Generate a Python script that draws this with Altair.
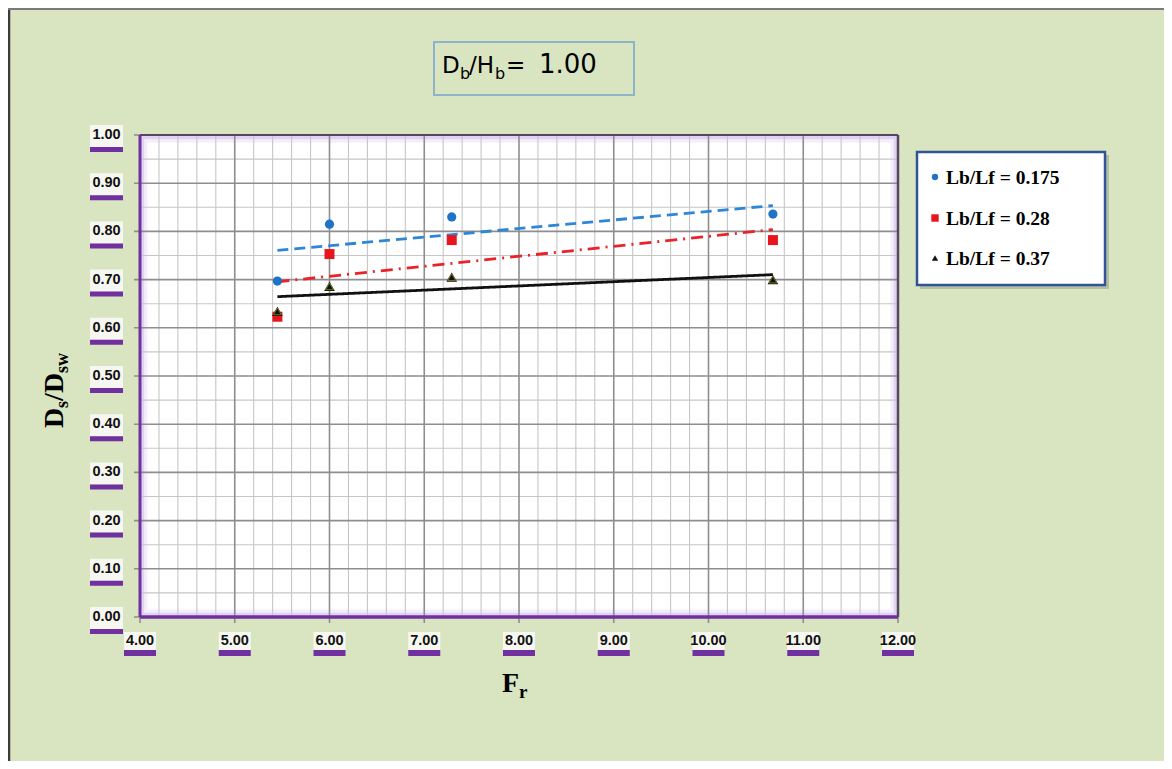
import altair as alt
import pandas as pd

# ---------------- data ----------------
fr = [5.45, 6.00, 7.29, 10.68]
ds_0175 = [0.697, 0.815, 0.830, 0.836]
ds_028 = [0.623, 0.753, 0.782, 0.782]
ds_037 = [0.634, 0.686, 0.705, 0.700]
series_names = ["Lb/Lf = 0.175", "Lb/Lf = 0.28", "Lb/Lf = 0.37"]
x_ticks = [4.0, 5.0, 6.0, 7.0, 8.0, 9.0, 10.0, 11.0, 12.0]
y_ticks = [0.0, 0.1, 0.2, 0.3, 0.4, 0.5, 0.6, 0.7, 0.8, 0.9, 1.0]
x_minor = [round(4 + 0.2 * i, 2) for i in range(41) if i % 5 != 0]
y_minor = [round(0.05 + 0.1 * i, 2) for i in range(10)]

rows = []
for name, vals in zip(series_names, [ds_0175, ds_028, ds_037]):
    for xv, yv in zip(fr, vals):
        rows.append({"Fr": xv, "ratio": yv, "series": name})
df = pd.DataFrame(rows)
xt = pd.DataFrame({"v": x_ticks})
yt = pd.DataFrame({"v": y_ticks})
xm = pd.DataFrame({"v": x_minor})
ym = pd.DataFrame({"v": y_minor})
one = pd.DataFrame({"k": [0]})

# ---------------- layout ----------------
W, H = 758, 482
OX, OY = 140, 135  # page position of plot origin
BG = "#d9e4c1"
PURPLE = "#7030a0"
MAJOR_C = "#8e8e8e"
MINOR_C = "#c6c6c6"

xs = alt.Scale(domain=[4, 12], nice=False, zero=False)
ys = alt.Scale(domain=[0, 1], nice=False, zero=False)


def px(x):
    return x - OX


def py(y):
    return y - OY


def X(field="v"):
    return alt.X(f"{field}:Q", scale=xs, axis=None)


def Y(field="v"):
    return alt.Y(f"{field}:Q", scale=ys, axis=None)


def txt(s, x, y, size, font, weight="normal", angle=0, align="left", baseline="alphabetic", color="black"):
    return alt.Chart(one).mark_text(
        text=s, fontSize=size, font=font, fontWeight=weight, angle=angle,
        align=align, baseline=baseline, color=color
    ).encode(x=alt.value(x), y=alt.value(y))


def box(x1, x2, y1, y2, **kw):
    return alt.Chart(one).mark_rect(**kw).encode(
        x=alt.value(x1), x2=alt.value(x2), y=alt.value(y1), y2=alt.value(y2))


# inner lavender glow of the plot area (under the grid)
glow1 = box(2.5, W - 2.5, 2.5, H - 2.5, filled=False, stroke="#d9c7f1", strokeWidth=4, strokeOpacity=0.8)
glow2 = box(6, W - 6, 6, H - 6, filled=False, stroke="#efe7f9", strokeWidth=3, strokeOpacity=0.7)

# grid lines
gx_minor = alt.Chart(xm).mark_rule(color=MINOR_C, strokeWidth=1.1).encode(
    x=X(), y=alt.value(0), y2=alt.value(H))
gy_minor = alt.Chart(ym).mark_rule(color=MINOR_C, strokeWidth=1.1).encode(
    y=Y(), x=alt.value(0), x2=alt.value(W))
gx_major = alt.Chart(xt).mark_rule(color=MAJOR_C, strokeWidth=1.6).encode(
    x=X(), y=alt.value(0), y2=alt.value(H + 6))
gy_major = alt.Chart(yt).mark_rule(color=MAJOR_C, strokeWidth=1.6).encode(
    y=Y(), x=alt.value(-6), x2=alt.value(W))

# borders
top_b = alt.Chart(one).mark_rule(color="#54485f", strokeWidth=2).encode(
    x=alt.value(0), x2=alt.value(W), y=alt.value(0))
right_b = alt.Chart(one).mark_rule(color="#54485f", strokeWidth=2.5).encode(
    x=alt.value(W), y=alt.value(0), y2=alt.value(H))
left_border = alt.Chart(one).mark_rule(color=PURPLE, strokeWidth=3).encode(
    x=alt.value(0), y=alt.value(0), y2=alt.value(H))
bottom_border = alt.Chart(one).mark_rule(color=PURPLE, strokeWidth=3.5).encode(
    x=alt.value(0), x2=alt.value(W), y=alt.value(H))

# trend lines (linear regression of each series)
line_colors = ["#2e86d6", "#e8242a", "#111111"]
lines = alt.Chart(df).transform_regression(
    "Fr", "ratio", groupby=["series"], method="linear"
).mark_line(strokeWidth=2.8).encode(
    x=X("Fr"), y=Y("ratio"),
    stroke=alt.Stroke("series:N", scale=alt.Scale(domain=series_names, range=line_colors), legend=None),
    strokeDash=alt.StrokeDash("series:N", scale=alt.Scale(domain=series_names,
                              range=[[11, 6], [12, 6, 2, 6], [1, 0]]), legend=None),
    detail="series:N",
)

# data points
point_colors = ["#1f72c6", "#e8161c", "#111111"]
shapes = ["circle", "square", "triangle-up"]
sizes = [85, 115, 55]
fill_enc = alt.Fill("series:N", scale=alt.Scale(domain=series_names, range=point_colors), legend=None)
shape_enc = alt.Shape("series:N", scale=alt.Scale(domain=series_names, range=shapes), legend=None)
size_enc = alt.Size("series:N", scale=alt.Scale(domain=series_names, range=sizes), legend=None)
points = alt.Chart(df).mark_point(filled=True, opacity=1, strokeWidth=0).encode(
    x=X("Fr"), y=Y("ratio"), fill=fill_enc, shape=shape_enc, size=size_enc,
)
tri_outline = alt.Chart(df).transform_filter(
    alt.datum.series == series_names[2]
).mark_point(shape="triangle-up", filled=False, size=60, stroke="#a0a020", strokeWidth=1).encode(
    x=X("Fr"), y=Y("ratio"),
)

# tick labels (white box + purple underline, Excel style)
LF = "Liberation Sans"
xl_box = alt.Chart(xt).mark_rule(color="#f7f7f2", strokeWidth=32).encode(
    x=X(), y=alt.value(py(632)), y2=alt.value(py(650)))
xl_bar = alt.Chart(xt).mark_rule(color=PURPLE, strokeWidth=32).encode(
    x=X(), y=alt.value(py(650)), y2=alt.value(py(656)))
xl_txt = alt.Chart(xt).mark_text(font=LF, fontSize=14.5, fontWeight="bold",
                                 color="#111111", baseline="middle").encode(
    x=X(), y=alt.value(py(641)), text=alt.Text("v:Q", format=".2f"))

yl_box = alt.Chart(yt).mark_rule(color="#f7f7f2", strokeWidth=22, yOffset=1).encode(
    y=Y(), x=alt.value(px(90)), x2=alt.value(px(123)))
yl_bar = alt.Chart(yt).mark_rule(color=PURPLE, strokeWidth=5, yOffset=14.5).encode(
    y=Y(), x=alt.value(px(90)), x2=alt.value(px(123)))
yl_txt = alt.Chart(yt).mark_text(font=LF, fontSize=14.5, fontWeight="bold",
                                 color="#111111", baseline="middle", align="center").encode(
    y=Y(), x=alt.value(px(106.5)), text=alt.Text("v:Q", format=".2f"))

# outer chart frame (left & top)
frame_left = alt.Chart(one).mark_rule(color="#3c3c3c", strokeWidth=2.5).encode(
    x=alt.value(px(9)), y=alt.value(py(8)), y2=alt.value(py(769)))
frame_top = alt.Chart(one).mark_rule(color="#7a7a7a", strokeWidth=2).encode(
    x=alt.value(px(8)), x2=alt.value(px(1172)), y=alt.value(py(9)))

# title box  D_b/H_b = 1.00
tbox = box(px(434), px(634), py(42), py(95), fill=BG, stroke="#8fb3c8", strokeWidth=2)
TF = "DejaVu Sans"
title_parts = [
    txt("D", px(442), py(73), 23, TF),
    txt("b", px(460), py(79), 16, TF),
    txt("/H", px(469), py(73), 23, TF),
    txt("b", px(495), py(79), 16, TF),
    txt("=", px(506), py(73), 23, TF),
    txt("1.00", px(539), py(73), 26, TF),
]

# y axis title  D_s/D_sw  (rotated)
SF = "Liberation Serif"
ytitle = [
    txt("D", px(63), py(428), 28, SF, "bold", angle=270),
    txt("s", px(68), py(408), 18, SF, "bold", angle=270),
    txt("/", px(63), py(401), 28, SF, "bold", angle=270),
    txt("D", px(63), py(393), 28, SF, "bold", angle=270),
    txt("sw", px(68), py(373), 18, SF, "bold", angle=270),
]
# x axis title  F_r
xtitle = [
    txt("F", px(502), py(692), 28, SF, "bold"),
    txt("r", px(519), py(698), 19, SF, "bold"),
]

# legend: box with shadow, one symbol + label per series
leg_shadow = box(px(920), px(1109), py(155), py(289), fill="#a7ad98", opacity=0.7)
leg_box = box(px(917), px(1105), py(152), py(285), fill="white", stroke="#2f5597", strokeWidth=2.5)
legend_layers = []
row_y = [177, 218, 258]
leg_sizes = [40, 55, 40]
for i, name in enumerate(series_names):
    legend_layers.append(
        alt.Chart(one).mark_point(filled=True, opacity=1, shape=shapes[i], size=leg_sizes[i],
                                  color=point_colors[i], strokeWidth=0).encode(
            x=alt.value(px(935)), y=alt.value(py(row_y[i]))))
    legend_layers.append(txt(name, px(946), py(row_y[i] + 6.5), 19.5, SF, "bold"))

chart = alt.layer(
    glow1, glow2, gx_minor, gy_minor, gx_major, gy_major,
    top_b, right_b, left_border, bottom_border,
    lines, points, tri_outline,
    xl_box, xl_bar, xl_txt, yl_box, yl_bar, yl_txt,
    frame_left, frame_top, tbox, *title_parts, *ytitle, *xtitle,
    leg_shadow, leg_box, *legend_layers,
).properties(
    width=W, height=H,
    autosize=alt.AutoSizeParams(type="none"),
    padding={"left": OX - 8, "top": OY - 8, "right": 1156 - (OX - 8) - W, "bottom": 753 - (OY - 8) - H},
).configure(
    background=BG,
).configure_view(
    fill="white", stroke=None,
)

chart.save("out.html", embed_options={"renderer": "svg", "actions": False})
